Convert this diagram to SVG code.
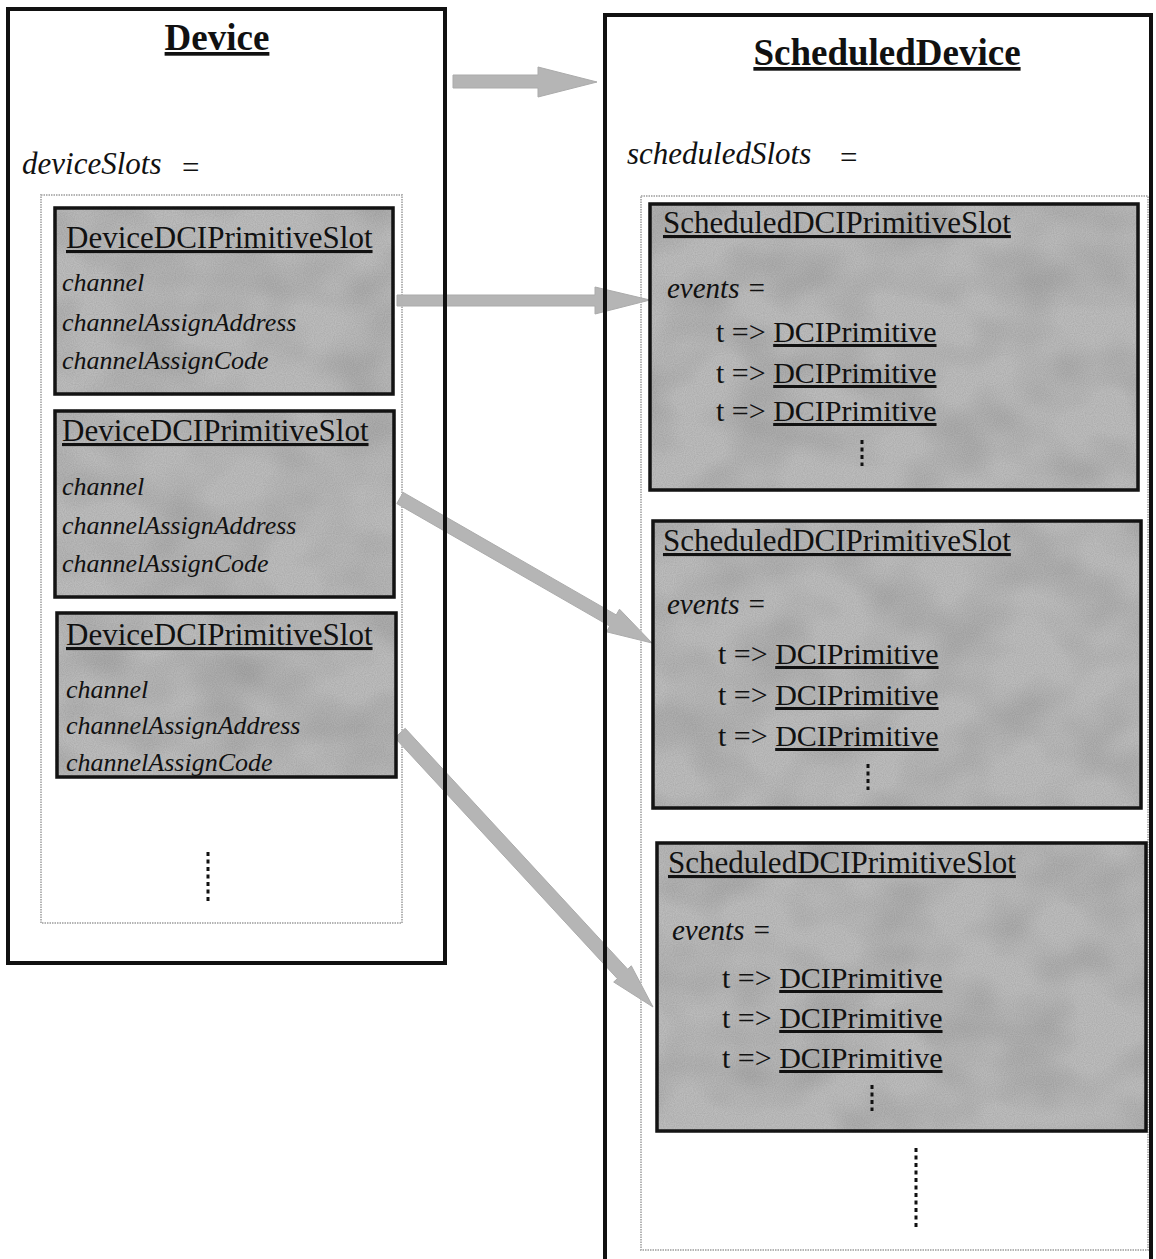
<svg xmlns="http://www.w3.org/2000/svg" width="1156" height="1259" viewBox="0 0 1156 1259">
  <style>
    .outer { fill: none; stroke: #111; stroke-width: 4; }
    .holder { fill: none; stroke: #b4b4b4; stroke-width: 2; stroke-dasharray: 1.5 1; }
    .slot { fill: #bcbcbc; stroke: #151515; stroke-width: 3.5; filter: url(#grain); }
    .arrow { fill: #b5b5b5; stroke: #ababab; stroke-width: 1; }
    .dots { stroke: #111; stroke-width: 3; stroke-dasharray: 4 3.5; fill: none; }
    text { font-family: "Liberation Serif", "Times New Roman", serif; fill: #111; }
    .head { font-size: 37px; font-weight: bold; text-decoration: underline; }
    .title { font-size: 31px; text-decoration: underline; }
    .var { font-size: 31px; font-style: italic; }
    .attr { font-size: 26px; font-style: italic; }
    .ev { font-size: 29px; font-style: italic; }
    .map { font-size: 30px; }
    .u { text-decoration: underline; }
  </style>

  <defs>
    <!-- soft mottled halftone look for the grey fills -->
    <filter id="grain" x="-3%" y="-3%" width="106%" height="106%" color-interpolation-filters="sRGB">
      <feTurbulence type="fractalNoise" baseFrequency="0.015 0.02" numOctaves="2" seed="7" result="mottle"/>
      <feTurbulence type="fractalNoise" baseFrequency="0.9" numOctaves="1" seed="3" result="fine"/>
      <feColorMatrix in="mottle" type="matrix" values="0 0 0 0 0  0 0 0 0 0  0 0 0 0 0  0.22 0 0 0 -0.08" result="mottleA"/>
      <feColorMatrix in="fine" type="matrix" values="0 0 0 0 0  0 0 0 0 0  0 0 0 0 0  0.16 0 0 0 -0.05" result="fineA"/>
      <feMerge result="noise">
        <feMergeNode in="mottleA"/>
        <feMergeNode in="fineA"/>
      </feMerge>
      <feComposite in="noise" in2="SourceAlpha" operator="in" result="shade"/>
      <feMerge>
        <feMergeNode in="SourceGraphic"/>
        <feMergeNode in="shade"/>
      </feMerge>
    </filter>
  </defs>

  <rect x="0" y="0" width="1156" height="1259" fill="#ffffff"/>

  <!-- connectors: broad grey arrows, drawn under the frame borders -->
  <g id="connectors">
    <!-- Device to ScheduledDevice -->
    <polygon class="arrow" points="453,75 538,75 538,67 597,82 538,97 538,88 453,88"/>
    <!-- slot 1 to scheduled slot 1 -->
    <polygon class="arrow" points="397,295 595,295 595,287 650,300 595,314 595,306 397,306"/>
    <!-- slot 2 to scheduled slot 2 -->
    <polygon class="arrow" points="403.2,492.4 616.2,614.9 619.5,609.2 652,643 606.5,631.8 609.8,626.1 396.8,503.6"/>
    <!-- slot 3 to scheduled slot 3 -->
    <polygon class="arrow" points="405.2,728.3 627.7,969.2 631.3,965.8 653,1007 613.7,982 617.4,978.7 394.9,737.8"/>
  </g>

  <!-- Device object -->
  <g id="device">
    <rect class="outer" x="8" y="9" width="437" height="954"/>
    <text class="head" x="217" y="50" text-anchor="middle">Device</text>
    <text class="var" x="22" y="174">deviceSlots</text>
    <text class="var" x="180" y="178" font-style="normal" font-size="28">=</text>
    <rect class="holder" x="41" y="195" width="361" height="728"/>
    <line class="dots" x1="208" y1="852" x2="208" y2="902"/>
  </g>

  <g id="device-slot-1">
    <rect class="slot" x="55" y="208" width="338" height="186"/>
    <text class="title" x="66" y="248">DeviceDCIPrimitiveSlot</text>
    <text class="attr" x="62" y="291">channel</text>
    <text class="attr" x="62" y="331">channelAssignAddress</text>
    <text class="attr" x="62" y="369">channelAssignCode</text>
  </g>

  <g id="device-slot-2">
    <rect class="slot" x="55" y="411" width="339" height="186"/>
    <text class="title" x="62" y="441">DeviceDCIPrimitiveSlot</text>
    <text class="attr" x="62" y="495">channel</text>
    <text class="attr" x="62" y="534">channelAssignAddress</text>
    <text class="attr" x="62" y="572">channelAssignCode</text>
  </g>

  <g id="device-slot-3">
    <rect class="slot" x="57" y="613" width="339" height="164"/>
    <text class="title" x="66" y="645">DeviceDCIPrimitiveSlot</text>
    <text class="attr" x="66" y="698">channel</text>
    <text class="attr" x="66" y="734">channelAssignAddress</text>
    <text class="attr" x="66" y="771">channelAssignCode</text>
  </g>

  <!-- ScheduledDevice object -->
  <g id="scheduled-device">
    <rect class="outer" x="605" y="15" width="546" height="1260"/>
    <text class="head" x="887" y="65" text-anchor="middle">ScheduledDevice</text>
    <text class="var" x="627" y="164">scheduledSlots</text>
    <text class="var" x="838" y="168" font-style="normal" font-size="28">=</text>
    <rect class="holder" x="641" y="196" width="507" height="1054"/>
    <line class="dots" x1="916" y1="1148" x2="916" y2="1228"/>
  </g>

  <g id="scheduled-slot-1">
    <rect class="slot" x="650" y="204" width="488" height="286"/>
    <text class="title" x="663" y="233">ScheduledDCIPrimitiveSlot</text>
    <text class="ev" x="667" y="298">events =</text>
    <text class="map" x="716" y="342">t =&gt; <tspan class="u">DCIPrimitive</tspan></text>
    <text class="map" x="716" y="383">t =&gt; <tspan class="u">DCIPrimitive</tspan></text>
    <text class="map" x="716" y="421">t =&gt; <tspan class="u">DCIPrimitive</tspan></text>
    <line class="dots" x1="862" y1="440" x2="862" y2="466"/>
  </g>

  <g id="scheduled-slot-2">
    <rect class="slot" x="653" y="521" width="488" height="287"/>
    <text class="title" x="663" y="551">ScheduledDCIPrimitiveSlot</text>
    <text class="ev" x="667" y="614">events =</text>
    <text class="map" x="718" y="664">t =&gt; <tspan class="u">DCIPrimitive</tspan></text>
    <text class="map" x="718" y="705">t =&gt; <tspan class="u">DCIPrimitive</tspan></text>
    <text class="map" x="718" y="746">t =&gt; <tspan class="u">DCIPrimitive</tspan></text>
    <line class="dots" x1="868" y1="764" x2="868" y2="790"/>
  </g>

  <g id="scheduled-slot-3">
    <rect class="slot" x="657" y="843" width="489" height="288"/>
    <text class="title" x="668" y="873">ScheduledDCIPrimitiveSlot</text>
    <text class="ev" x="672" y="940">events =</text>
    <text class="map" x="722" y="988">t =&gt; <tspan class="u">DCIPrimitive</tspan></text>
    <text class="map" x="722" y="1028">t =&gt; <tspan class="u">DCIPrimitive</tspan></text>
    <text class="map" x="722" y="1068">t =&gt; <tspan class="u">DCIPrimitive</tspan></text>
    <line class="dots" x1="872" y1="1085" x2="872" y2="1111"/>
  </g>
</svg>
